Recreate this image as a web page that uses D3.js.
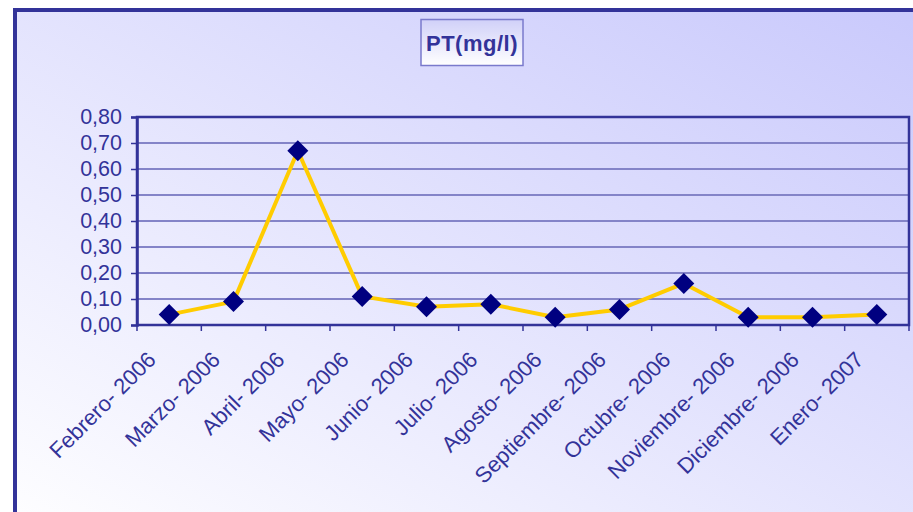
<!DOCTYPE html>
<html>
<head>
<meta charset="utf-8">
<script src="https://cdn.jsdelivr.net/npm/d3@7"></script>
<style>
  html, body { margin: 0; padding: 0; background: #fff; }
  svg { display: block; font-family: "Liberation Sans", Arial, sans-serif; }
</style>
</head>
<body>
<div class="chart"></div>
<script>
const months = [
  "Febrero- 2006", "Marzo- 2006", "Abril- 2006", "Mayo- 2006",
  "Junio- 2006", "Julio- 2006", "Agosto- 2006", "Septiembre- 2006",
  "Octubre- 2006", "Noviembre- 2006", "Diciembre- 2006", "Enero- 2007",
]
const ptValues = [0.04, 0.09, 0.67, 0.11, 0.07, 0.08, 0.03, 0.06, 0.16, 0.03, 0.03, 0.04]
const yTicks = [0, 0.1, 0.2, 0.3, 0.4, 0.5, 0.6, 0.7, 0.8]
const title = "PT(mg/l)"

const config = {
  width: 913,
  height: 512,
  plot: { left: 137, top: 117, right: 909, bottom: 325 },
}

const ink = "#333399"
const fmt = (d) => d3.format(".2f")(d).replace(".", ",")

const svg = d3.select(".chart").append("svg")
  .attr("width", config.width)
  .attr("height", config.height)

const defs = svg.append("defs")
const bg = defs.append("linearGradient").attr("id", "bg")
  .attr("x1", 0).attr("y1", 1).attr("x2", 1).attr("y2", 0)
bg.append("stop").attr("offset", "0%").attr("stop-color", "#ffffff")
bg.append("stop").attr("offset", "100%").attr("stop-color", "#c8c8fc")

const tb = defs.append("linearGradient").attr("id", "tb")
  .attr("x1", 0).attr("y1", 0).attr("x2", 0).attr("y2", 1)
tb.append("stop").attr("offset", "0%").attr("stop-color", "#d0d0f8")
tb.append("stop").attr("offset", "100%").attr("stop-color", "#ffffff")

// 外框
svg.append("rect")
  .attr("x", 15).attr("y", 10)
  .attr("width", 940).attr("height", 540)
  .attr("fill", "url(#bg)")
  .attr("stroke", ink)
  .attr("stroke-width", 4)

// 标题
const tg = svg.append("g")
tg.append("rect")
  .attr("x", 421).attr("y", 19.5)
  .attr("width", 102).attr("height", 46)
  .attr("fill", "url(#tb)")
  .attr("stroke", "#7a7acc")
  .attr("stroke-width", 1.5)
tg.append("text")
  .attr("x", 472).attr("y", 51)
  .attr("text-anchor", "middle")
  .attr("font-size", 22)
  .attr("font-weight", "bold")
  .attr("letter-spacing", 0.5)
  .attr("fill", ink)
  .text(title)

const p = config.plot

const scaleX = d3.scaleBand()
  .domain(months)
  .range([p.left, p.right])

const scaleY = d3.scaleLinear()
  .domain([0, 0.8])
  .range([p.bottom, p.top])

// 网格线
svg.append("g")
  .selectAll("line")
  .data(yTicks.filter((d) => d > 0 && d < 0.8))
  .join("line")
  .attr("x1", p.left).attr("x2", p.right)
  .attr("y1", (d) => scaleY(d)).attr("y2", (d) => scaleY(d))
  .attr("stroke", "#8484c8")
  .attr("stroke-width", 2)

// 绘图区边框
svg.append("rect")
  .attr("x", p.left).attr("y", p.top)
  .attr("width", p.right - p.left).attr("height", p.bottom - p.top)
  .attr("fill", "none")
  .attr("stroke", ink)
  .attr("stroke-width", 2.5)

// 纵坐标
const yAxis = svg.append("g")
  .attr("transform", `translate(${p.left},0)`)
  .call(d3.axisLeft(scaleY).tickValues(yTicks).tickFormat(fmt).tickSize(6).tickPadding(9))
yAxis.select(".domain").attr("stroke", ink).attr("stroke-width", 2.5)
yAxis.selectAll(".tick line").attr("stroke", ink).attr("stroke-width", 1.5)
yAxis.selectAll("text")
  .attr("fill", ink)
  .attr("font-size", 21.5)
  .attr("font-family", "Liberation Sans, Arial, sans-serif")

// 横坐标
const xTicks = d3.range(months.length + 1).map((i) => p.left + i * scaleX.step())
svg.append("g")
  .selectAll("line")
  .data(xTicks)
  .join("line")
  .attr("x1", (d) => d).attr("x2", (d) => d)
  .attr("y1", p.bottom).attr("y2", p.bottom + 6)
  .attr("stroke", ink)
  .attr("stroke-width", 1.5)

svg.append("g")
  .selectAll("text")
  .data(months)
  .join("text")
  .attr("transform", (d) => {
    const x = scaleX(d) + scaleX.bandwidth() / 2 - 12
    return `translate(${x},361) rotate(-45)`
  })
  .attr("text-anchor", "end")
  .attr("font-size", 22)
  .attr("fill", ink)
  .text((d) => d)

// 折线
const cx = (d, i) => scaleX(months[i]) + scaleX.bandwidth() / 2
const line = d3.line()
  .x(cx)
  .y((d) => scaleY(d))

svg.append("path")
  .datum(ptValues)
  .attr("d", line)
  .attr("fill", "none")
  .attr("stroke", "#ffcc00")
  .attr("stroke-width", 4)
  .attr("stroke-linejoin", "round")

// 菱形标记
svg.append("g")
  .selectAll("path")
  .data(ptValues)
  .join("path")
  .attr("d", "M0,-10.5L10.5,0L0,10.5L-10.5,0Z")
  .attr("transform", (d, i) => `translate(${cx(d, i)},${scaleY(d)})`)
  .attr("fill", "#000080")
</script>
</body>
</html>
